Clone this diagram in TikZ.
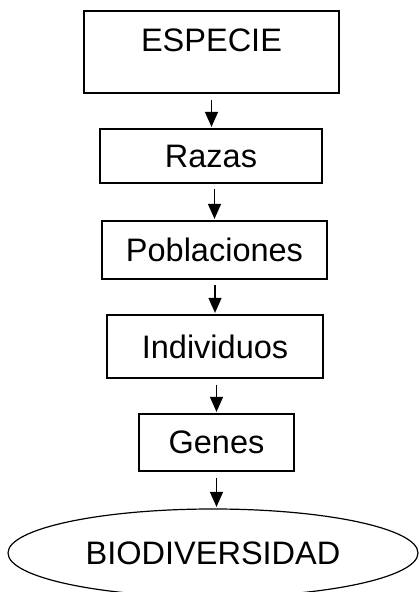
\documentclass[tikz,border=0pt]{standalone}
\usepackage{fontspec}
\setmainfont{Liberation Sans}
\usepackage{tikz}
\usetikzlibrary{shapes.geometric, arrows.meta, positioning, calc}
\definecolor{mydark}{RGB}{0,0,0}
\tikzset{
  levelbox/.style={rectangle, draw=mydark, line width=1.2pt,
    align=center, inner sep=0pt, font=\fontsize{32.5}{38}\selectfont},
  endnode/.style={ellipse, draw=mydark, line width=1.2pt,
    inner sep=0pt, font=\fontsize{32.5}{38}\selectfont},
  arrow/.style={-{Triangle[width=13pt,length=15pt]}, line width=1.3pt,
    color=mydark, shorten >=1.5pt}
}
\begin{document}
\begin{tikzpicture}[x=1pt, y=1pt]
  \useasboundingbox (0,0) rectangle (418,592);

  % Levels
  \node[levelbox, minimum width=255, minimum height=82,
    text height=21pt, text depth=21pt] (especie) at (211.5,540) {ESPECIE};
  \node[levelbox, minimum width=222, minimum height=54] (razas) at (211,436) {Razas};
  \node[levelbox, minimum width=225, minimum height=58] (poblaciones) at (214.5,342) {Poblaciones};
  \node[levelbox, minimum width=216, minimum height=63] (individuos) at (215,245.5) {Individuos};
  \node[levelbox, minimum width=155, minimum height=57] (genes) at (216.5,149.5) {Genes};
  \node[endnode, minimum width=410, minimum height=88] (biodiv) at (213,39) {BIODIVERSIDAD};

  % Arrows
  \draw[arrow] ([yshift=-6pt]especie.south) -- (especie.south |- razas.north);
  \draw[arrow] ([yshift=-5pt]razas.south -| poblaciones.north) -- (poblaciones.north);
  \draw[arrow] ([yshift=-5pt]poblaciones.south -| individuos.north) -- (individuos.north);
  \draw[arrow] ([yshift=-6pt]individuos.south -| genes.north) -- (genes.north);
  \draw[arrow] ([yshift=-6pt]genes.south) -- (genes.south |- biodiv.north);
\end{tikzpicture}
\end{document}
